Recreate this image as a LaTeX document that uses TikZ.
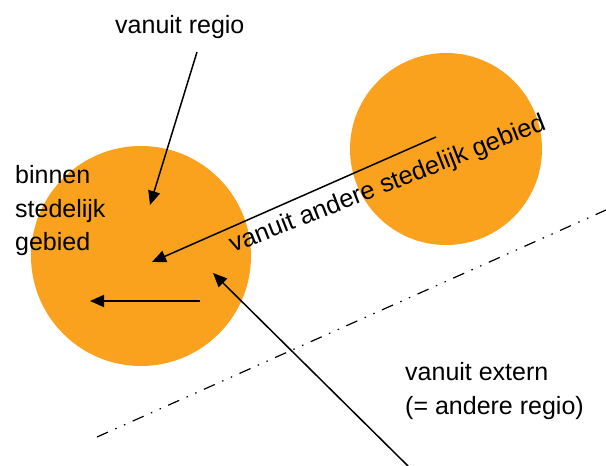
\documentclass[tikz,border=0pt]{standalone}
\usepackage{fontspec}
\setmainfont{Liberation Sans}
\usetikzlibrary{arrows.meta}
\definecolor{citycol}{RGB}{250,162,30}
\begin{document}
\begin{tikzpicture}[x=1pt,y=-1pt,
  area/.style={circle,fill=citycol,inner sep=0pt},
  flow/.style={line width=1.5pt,-{Triangle[length=14pt,width=12pt]}},
  lbl/.style={font=\fontsize{25}{33}\selectfont,inner sep=0pt,anchor=base west},
  border/.style={line width=1.2pt,dash pattern=on 12pt off 8pt on 1.5pt off 8pt on 1.5pt off 8pt}]
\useasboundingbox (0,0) rectangle (606,466);

% the two urban areas
\node[area,minimum size=220pt] (home) at (141,256) {};
\node[area,minimum size=192pt] (other) at (446,149) {};

% regional border
\coordinate (b0) at (97,437);
\coordinate (b1) at (606,210);
\draw[border] (b0) -- (b1);

% flows into the urban area
\coordinate (r0) at (197,52);
\coordinate (r1) at (150,205);
\draw[flow] (r0) -- (r1);

\coordinate (a0) at (436,137);
\coordinate (a1) at (152,262);
\draw[flow] (a0) -- (a1);

\coordinate (h0) at (200,301);
\coordinate (h1) at (90,301);
\draw[flow,line width=2pt] (h0) -- (h1);

\coordinate (e0) at (408,466);
\coordinate (e1) at (213,273);
\draw[flow] (e0) -- (e1);

% labels
\node[lbl] (tregio) at (115,33) {vanuit regio};
\node[lbl] (tin1) at (15,183) {binnen};
\node[lbl] (tin2) at (15,217) {stedelijk};
\node[lbl] (tin3) at (15,250) {gebied};
\node[lbl,font=\fontsize{25.5}{33}\selectfont,rotate=21.5] (tother) at (233,253) {vanuit andere stedelijk gebied};
\node[lbl] (text1) at (405,380) {vanuit extern};
\node[lbl] (text2) at (405,414) {(= andere regio)};
\end{tikzpicture}
\end{document}
